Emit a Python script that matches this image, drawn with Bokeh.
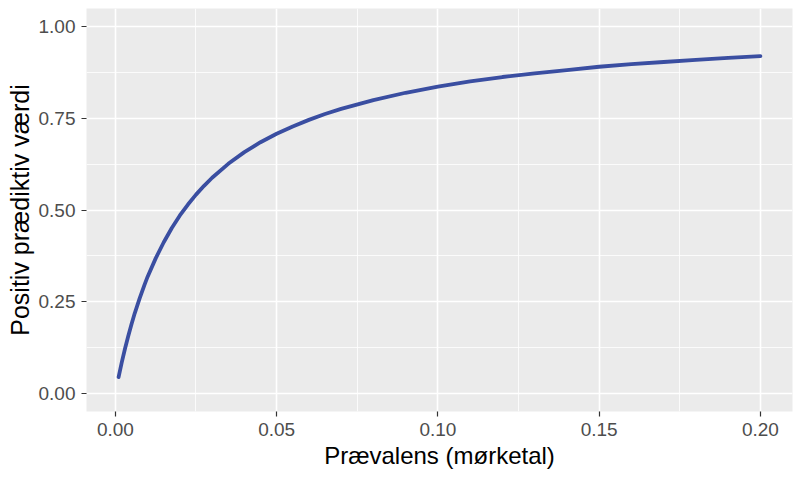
from bokeh.plotting import figure
from bokeh.models import FixedTicker, PrintfTickFormatter, Range1d
from bokeh.embed import file_html
from bokeh.resources import INLINE

# Prevalence (x) and positive predictive value (y)
prevalence = [0.001, 0.002, 0.003, 0.004, 0.005, 0.006, 0.0075, 0.009, 0.01, 0.0125,
              0.015, 0.0175, 0.02, 0.0225, 0.025, 0.0275, 0.03, 0.035, 0.04, 0.045,
              0.05, 0.055, 0.06, 0.065, 0.07, 0.08, 0.09, 0.10, 0.11, 0.12, 0.13,
              0.14, 0.15, 0.16, 0.17, 0.18, 0.19, 0.20]
ppv = [0.044, 0.085, 0.122, 0.156, 0.188, 0.218, 0.258, 0.295, 0.318, 0.368,
       0.412, 0.451, 0.485, 0.515, 0.542, 0.566, 0.588, 0.626, 0.658, 0.685,
       0.708, 0.728, 0.746, 0.762, 0.776, 0.800, 0.820, 0.837, 0.851, 0.863, 0.873,
       0.882, 0.891, 0.898, 0.904, 0.910, 0.915, 0.920]

x_ticks = [0.0, 0.05, 0.10, 0.15, 0.20]
x_minor = [0.025, 0.075, 0.125, 0.175]
y_ticks = [0.0, 0.25, 0.50, 0.75, 1.00]
y_minor = [0.125, 0.375, 0.625, 0.875]

FONT = "Liberation Sans"

p = figure(width=800, height=481, output_backend="svg", toolbar_location=None,
           x_range=Range1d(-0.00895, 0.20995),
           y_range=Range1d(-0.05, 1.05),
           min_border_left=86, min_border_right=8, min_border_top=8, min_border_bottom=70)
p.background_fill_color = "#EBEBEB"
p.border_fill_color = "white"
p.outline_line_color = None

p.line(prevalence, ppv, line_color="#3A4EA1", line_width=3.8, line_join="round", line_cap="round")

p.xaxis.ticker = FixedTicker(ticks=x_ticks, minor_ticks=x_minor)
p.yaxis.ticker = FixedTicker(ticks=y_ticks, minor_ticks=y_minor)
p.xaxis.formatter = PrintfTickFormatter(format="%.2f")
p.yaxis.formatter = PrintfTickFormatter(format="%.2f")

for g in (p.xgrid, p.ygrid):
    g.grid_line_color = "white"
    g.grid_line_width = 1.6
    g.minor_grid_line_color = "white"
    g.minor_grid_line_width = 0.8

for ax in (p.xaxis, p.yaxis):
    ax.axis_line_color = None
    ax.major_tick_line_color = "#333333"
    ax.major_tick_line_width = 1.2
    ax.major_tick_out = 5
    ax.major_tick_in = 0
    ax.minor_tick_line_color = None
    ax.major_label_text_font = FONT
    ax.major_label_text_font_size = "19px"
    ax.major_label_text_color = "#4D4D4D"
    ax.axis_label_text_font = FONT
    ax.axis_label_text_font_style = "normal"
    ax.axis_label_text_color = "black"

p.xaxis.axis_label_text_font_size = "24px"
p.yaxis.axis_label_text_font_size = "25px"
p.xaxis.axis_label = "Prævalens (mørketal)"
p.yaxis.axis_label = "Positiv prædiktiv værdi"
p.xaxis.major_label_standoff = 6
p.yaxis.major_label_standoff = 6
p.xaxis.axis_label_standoff = 3
p.yaxis.axis_label_standoff = 2

open("out.html", "w").write(file_html(p, INLINE))
